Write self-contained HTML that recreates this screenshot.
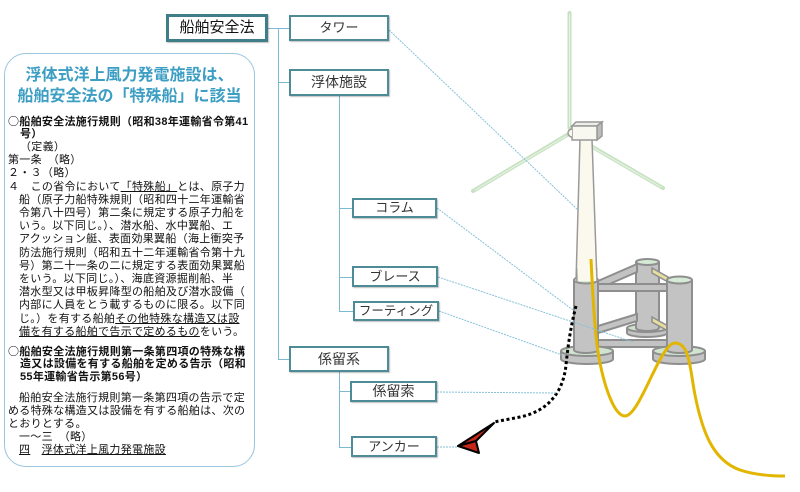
<!DOCTYPE html>
<html><head><meta charset="utf-8">
<style>
html,body{margin:0;padding:0}
body{width:800px;height:492px;background:#fff;position:relative;overflow:hidden;font-family:"Liberation Sans","Noto Sans CJK JP",sans-serif;}
.bx{position:absolute;box-sizing:border-box;border:2px solid #4d8c96;background:#fff;color:#333;text-align:center;font-family:"Liberation Sans","Noto Sans CJK JP",sans-serif;box-shadow:1px 1px 1px rgba(0,0,0,.25);z-index:2;white-space:nowrap}
.t{position:absolute;white-space:nowrap;font-size:11px;line-height:13px;letter-spacing:0.3px;color:#111;font-family:"Liberation Sans","Noto Sans CJK JP",sans-serif;z-index:2}
.b{font-weight:bold}
.c{font-family:"Noto Sans CJK JP",sans-serif}
u{text-decoration:underline}
svg{position:absolute;left:0;top:0;z-index:1}
</style></head>
<body>

<svg width="800" height="492" viewBox="0 0 800 492">
  <!-- tree lines -->
  <g stroke="#7db9d2" stroke-width="1" fill="none">
    <path d="M268,28.5H289 M278.5,28V359.5H289 M278,82.5H289 M339.5,96V311.5H353 M339,208.5H352 M339,277.5H352 M339.5,372V447.5H351 M339,391.5H350"/>
  </g>

  <!-- blades -->
  <g stroke-linecap="round">
    <line x1="569.5" y1="13" x2="569.5" y2="128" stroke="#c8e2c3" stroke-width="4"/>
    <line x1="569.5" y1="15" x2="569.5" y2="126" stroke="#eaf4e6" stroke-width="1"/>
    <line x1="567" y1="135" x2="473" y2="191" stroke="#c8e2c3" stroke-width="4"/>
    <line x1="566" y1="136" x2="475" y2="190" stroke="#eaf4e6" stroke-width="1"/>
    <line x1="591" y1="146" x2="663" y2="188" stroke="#c8e2c3" stroke-width="4"/>
    <line x1="592" y1="147" x2="661" y2="187" stroke="#eaf4e6" stroke-width="1"/>
  </g>

  <!-- tower -->
  <polygon points="580,139 592,139 597,282 576,282" fill="#fbf9ee" stroke="#9a9a9a" stroke-width="1.5"/>
  <!-- nacelle -->
  <polygon points="572,126 576,122 602,122 597,126" fill="#eeeeea" stroke="#999" stroke-width="1.5"/>
  <polygon points="597,126 602,122 602,136 597,140" fill="#bdbdbd" stroke="#999" stroke-width="1.5"/>
  <rect x="572" y="126" width="25" height="14" fill="#f9f8f0" stroke="#999" stroke-width="1.5"/>
  <path d="M572,129 A4,4 0 0 0 572,137" fill="#f9f8f0" stroke="#999" stroke-width="1.5"/>

  <!-- platform -->
  <g stroke="#8e8e8e" stroke-width="2" fill="#c3c3c3">
    <path d="M627,328 v5 a20,4 0 0 0 40,0 v-5"/>
    <ellipse cx="647" cy="328" rx="20" ry="4" fill="#cfe3cf"/>
    <path d="M636,262 V328 a11.5,3 0 0 0 23,0 V262"/>
    <ellipse cx="647.5" cy="262" rx="11.5" ry="3" fill="#d6ead6"/>
    <polygon points="598,281 637,264 637,272 598,289"/>
    <polygon points="598,326 637,314 637,321 598,333"/>
    <polygon points="652,268 668,277 668,282 652,273" fill="#e6dea0" stroke-width="1.5"/>
    <polygon points="652,317 668,326 668,331 652,322" fill="#e6dea0" stroke-width="1.5"/>
    <rect x="597" y="284" width="71" height="7"/>
    <rect x="597" y="340" width="71" height="7"/>
    <path d="M561,351 v8 a26,5 0 0 0 52,0 v-8"/>
    <ellipse cx="587" cy="351" rx="26" ry="5" fill="#d0e4d0"/>
    <path d="M574,280 V350 a12,3 0 0 0 24,0 V280"/>
    <ellipse cx="586" cy="280" rx="12" ry="3.5" fill="#d6ead6"/>
    <path d="M653,351 v8 a26,5 0 0 0 52,0 v-8"/>
    <ellipse cx="679" cy="351" rx="26" ry="5" fill="#d0e4d0"/>
    <path d="M667,280 V350 a12.5,3 0 0 0 25,0 V280"/>
    <ellipse cx="679.5" cy="280" rx="12.5" ry="3.5" fill="#d6ead6"/>
  </g>
  <polygon points="577,270 597,270 597,281 577,281" fill="#fbf9ee" stroke="none"/>
  <line x1="576.6" y1="268" x2="577" y2="281" stroke="#9a9a9a" stroke-width="1.5"/>
  <line x1="596.6" y1="268" x2="597" y2="281" stroke="#9a9a9a" stroke-width="1.5"/>

  <!-- yellow cable -->
  <path d="M591,259 C593,300 595,335 599,358 C605,390 615,416 625,416 C640,416 660,343 675,343 C690,343 690,370 695,395 C702,430 712,460 740,470 C755,475 770,476 785,476" fill="none" stroke="#e2b600" stroke-width="3"/>

  <!-- dotted mooring line -->
  <path d="M576,306 C571,325 568,345 566,365 C563,395 545,412 520,417 L494,422" fill="none" stroke="#000" stroke-width="3" stroke-dasharray="3 2.6"/>

  <!-- anchor -->
  <polygon points="458,446 494,423 476,441" fill="#c4261a" stroke="#000" stroke-width="2" stroke-linejoin="round"/>
  <polygon points="458,446 476,441 479,453" fill="#c4261a" stroke="#000" stroke-width="2" stroke-linejoin="round"/>

  <!-- pointer lines -->
  <g stroke="#86c1da" stroke-width="1" stroke-dasharray="2 1" fill="none">
    <line x1="389" y1="30" x2="578" y2="210"/>
    <line x1="437" y1="208" x2="573" y2="310"/>
    <line x1="438" y1="277" x2="633" y2="342"/>
    <line x1="439" y1="311" x2="562" y2="355"/>
    <line x1="437" y1="392" x2="557" y2="393"/>
    <line x1="437" y1="447" x2="458" y2="447"/>
  </g>
</svg>

<!-- left panel -->
<div style="position:absolute;left:4px;top:53px;width:251px;height:414px;box-sizing:border-box;border:1.5px solid #9bc4df;border-radius:22px;background:#fff;z-index:1"></div>
<div style="position:absolute;left:4px;top:65px;width:251px;text-align:center;font-size:16px;line-height:21px;font-weight:bold;color:#3d9ec4;z-index:2;font-family:'Liberation Sans','Noto Sans CJK JP',sans-serif;white-space:nowrap">浮体式洋上風力発電施設は、<br>船舶安全法の「特殊船」に該当</div>

<div class="t b" style="left:8px;top:114.5px"><span class="c">○</span>船舶安全法施行規則（昭和38年運輸省令第41</div>
<div class="t b" style="left:20px;top:127.7px">号）</div>
<div class="t" style="left:20px;top:140.9px">（定義）</div>
<div class="t" style="left:8px;top:154.1px">第一条　（略）</div>
<div class="t" style="left:8px;top:167.3px">２・３（略）</div>
<div class="t" style="left:8px;top:180.5px">４　この省令において<u>「特殊船」</u>とは、原子力</div>
<div class="t" style="left:19px;top:193.7px">船（原子力船特殊規則（昭和四十二年運輸省</div>
<div class="t" style="left:19px;top:206.9px">令第八十四号）第二条に規定する原子力船を</div>
<div class="t" style="left:19px;top:220.1px">いう。以下同じ。）、潜水船、水中翼船、エ</div>
<div class="t" style="left:19px;top:233.3px">アクッション艇、表面効果翼船（海上衝突予</div>
<div class="t" style="left:19px;top:246.5px">防法施行規則（昭和五十二年運輸省令第十九</div>
<div class="t" style="left:19px;top:259.7px">号）第二十一条の二に規定する表面効果翼船</div>
<div class="t" style="left:19px;top:272.9px">をいう。以下同じ。）、海底資源掘削船、半</div>
<div class="t" style="left:19px;top:286.1px">潜水型又は甲板昇降型の船舶及び潜水設備（</div>
<div class="t" style="left:19px;top:299.3px">内部に人員をとう載するものに限る。以下同</div>
<div class="t" style="left:19px;top:312.5px">じ。）を有する船舶<u>その他特殊な構造又は設</u></div>
<div class="t" style="left:19px;top:325.7px"><u>備を有する船舶で告示で定めるもの</u>をいう。</div>

<div class="t b" style="left:8px;top:344.5px"><span class="c">○</span>船舶安全法施行規則第一条第四項の特殊な構</div>
<div class="t b" style="left:20px;top:357.7px">造又は設備を有する船舶を定める告示（昭和</div>
<div class="t b" style="left:20px;top:370.9px">55年運輸省告示第56号）</div>
<div class="t" style="left:19px;top:391.5px">船舶安全法施行規則第一条第四項の告示で定</div>
<div class="t" style="left:8px;top:404.7px">める特殊な構造又は設備を有する船舶は、次の</div>
<div class="t" style="left:8px;top:417.9px">とおりとする。</div>
<div class="t" style="left:19px;top:431.1px">一～三　（略）</div>
<div class="t" style="left:19px;top:444.3px"><u>四</u>　<u>浮体式洋上風力発電施設</u></div>

<!-- boxes -->
<div class="bx" style="left:166px;top:14px;width:102px;height:28px;border:3px solid #3f7e88;font-size:15px;line-height:22px;color:#111">船舶安全法</div>
<div class="bx" style="left:289px;top:15px;width:100px;height:26px;font-size:13px;line-height:22px">タワー</div>
<div class="bx" style="left:289px;top:69px;width:100px;height:27px;font-size:14px;line-height:23px">浮体施設</div>
<div class="bx" style="left:352px;top:198px;width:85px;height:20px;font-size:13px;line-height:16px">コラム</div>
<div class="bx" style="left:352px;top:266px;width:86px;height:21px;font-size:13px;line-height:17px">ブレース</div>
<div class="bx" style="left:353px;top:301px;width:86px;height:20px;font-size:12.5px;line-height:16px">フーティング</div>
<div class="bx" style="left:289px;top:346px;width:100px;height:26px;font-size:14px;line-height:22px">係留系</div>
<div class="bx" style="left:350px;top:381px;width:87px;height:21px;font-size:14px;line-height:17px">係留索</div>
<div class="bx" style="left:351px;top:436px;width:86px;height:21px;font-size:13px;line-height:17px">アンカー</div>

</body></html>
